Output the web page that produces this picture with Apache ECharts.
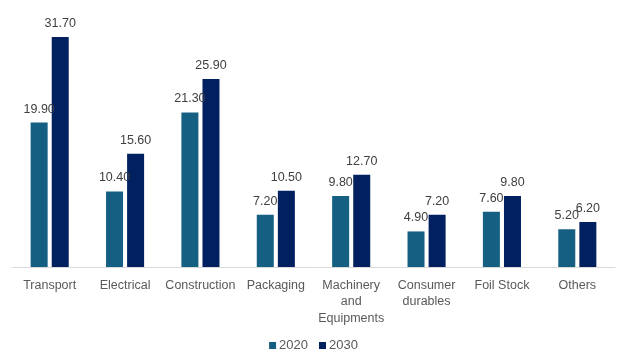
<!DOCTYPE html>
<html><head><meta charset="utf-8">
<script src="https://cdn.jsdelivr.net/npm/echarts@6/dist/echarts.min.js"></script>
<style>html,body{margin:0;padding:0;background:#fff}#c{width:627px;height:364px}</style>
</head><body><div id="c"></div>
<script>
const categories = ["Transport","Electrical","Construction","Packaging","Machinery\nand\nEquipments","Consumer\ndurables","Foil Stock","Others"];
const values2020 = [19.9,10.4,21.3,7.2,9.8,4.9,7.6,5.2];
const values2030 = [31.7,15.6,25.9,10.5,12.7,7.2,9.8,6.2];
const seriesNames = ["2020","2030"];
const font = "'Liberation Sans', Arial, sans-serif";
const chart = echarts.init(document.getElementById('c'), null, {renderer:'canvas'});
const lbl = {show:true, position:'top', distance:7, color:'#404040', fontSize:12.5, fontFamily:font, formatter:p=>p.value.toFixed(2)};
chart.setOption({
  animation:false,
  grid:{left:12, right:12, top:13, bottom:97, containLabel:false},
  legend:{bottom:7, left:'center', itemWidth:7, itemHeight:7, itemGap:11, icon:'rect',
    textStyle:{color:'#595959', fontSize:13, fontFamily:font, padding:[0,0,0,-2]}, data:seriesNames},
  xAxis:{type:'category', data:categories,
    axisLine:{lineStyle:{color:'#d9d9d9'}}, axisTick:{show:false},
    axisLabel:{color:'#595959', fontSize:12.5, fontFamily:font, lineHeight:16.5, margin:10, interval:0}},
  yAxis:{type:'value', min:0, max:35, show:false, splitLine:{show:false}},
  series:[
    {name:seriesNames[0], type:'bar', data:values2020, barWidth:17, barGap:'24%', itemStyle:{color:'#156082'}, label:lbl},
    {name:seriesNames[1], type:'bar', data:values2030, barWidth:17, barGap:'24%', itemStyle:{color:'#002060'}, label:lbl}
  ]
});
</script></body></html>
